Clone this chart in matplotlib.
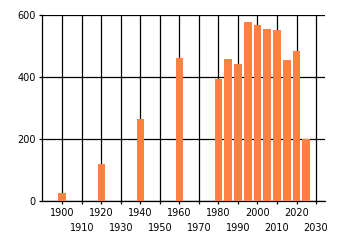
import matplotlib
matplotlib.use('Agg')
import matplotlib.pyplot as plt

years = [1900, 1920, 1940, 1960, 1980, 1985, 1990, 1995, 2000, 2005, 2010, 2015, 2020, 2025]
values = [28, 120, 265, 462, 394, 459, 443, 578, 569, 556, 552, 456, 485, 200]
decades = list(range(1900, 2031, 10))
yticks = [0, 200, 400, 600]

fig = plt.figure(figsize=(3.4, 2.45), dpi=100)
ax = fig.add_axes([0.1235, 0.178, 0.8325, 0.7596])

ax.bar(years, values, width=3.9, color='#ff8040', zorder=3)

ax.set_xlim(1889.6, 2034.6)
ax.set_ylim(0, 600)
ax.set_xticks(decades)
ax.set_xticklabels([str(d) for d in decades])
ax.set_yticks(yticks)
ax.grid(True, color='black', linewidth=0.9, zorder=0)
ax.set_axisbelow(True)

for s in ['top', 'right']:
    ax.spines[s].set_visible(False)
for s in ['left', 'bottom']:
    ax.spines[s].set_color('black')
    ax.spines[s].set_linewidth(0.9)

ax.tick_params(axis='both', length=2.5, width=0.9, labelsize=7, pad=2)
# stagger the decade labels on two rows
for i, t in enumerate(ax.xaxis.get_major_ticks()):
    if i % 2 == 1:
        t.set_pad(13)

fig.savefig('out.png', dpi=100)
